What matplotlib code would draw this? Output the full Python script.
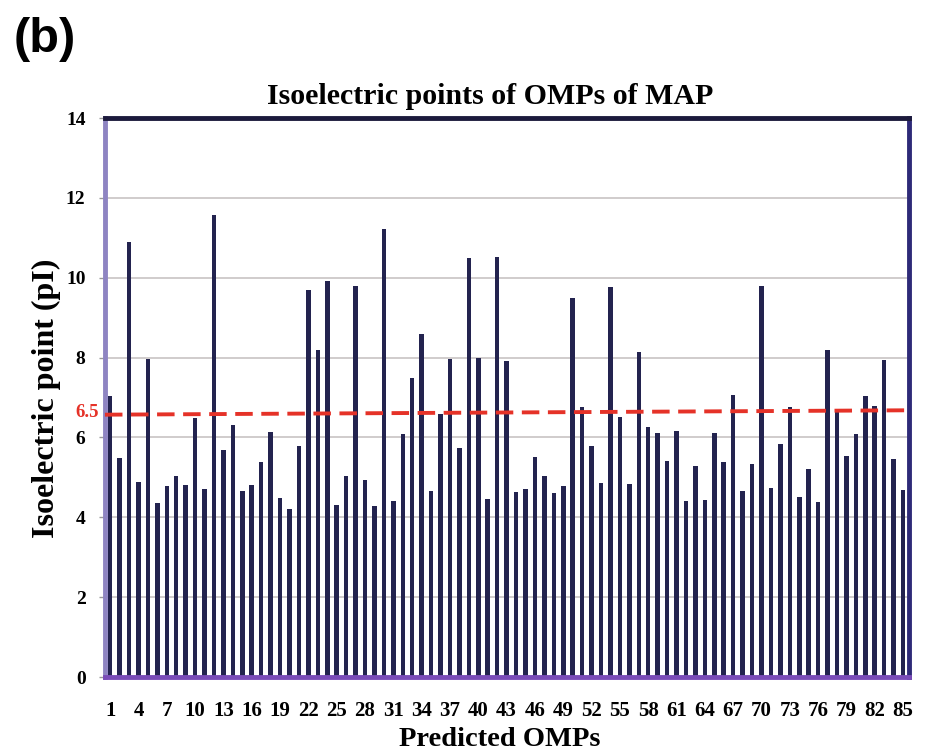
import matplotlib
matplotlib.use("Agg")
import matplotlib.pyplot as plt
import numpy as np

proteins = list(range(1, 86))
pI_values = [
    7.04, 5.48, 10.90, 4.89, 7.96, 4.35, 4.79, 5.04, 4.82, 6.49,
    4.71, 11.56, 5.69, 6.31, 4.66, 4.82, 5.39, 6.14, 4.48, 4.22,
    5.79, 9.69, 8.18, 9.91, 4.31, 5.04, 9.80, 4.93, 4.28, 11.21,
    4.42, 6.08, 7.48, 8.58, 4.65, 6.58, 7.96, 5.73, 10.50, 8.00,
    4.47, 10.52, 7.91, 4.64, 4.71, 5.51, 5.03, 4.60, 4.78, 9.50,
    6.75, 5.79, 4.85, 9.77, 6.52, 4.83, 8.15, 6.26, 6.11, 5.40,
    6.16, 4.41, 5.28, 4.43, 6.11, 5.38, 7.06, 4.66, 5.34, 9.79,
    4.73, 5.84, 6.76, 4.50, 5.21, 4.38, 8.18, 6.72, 5.53, 6.08,
    7.04, 6.79, 7.93, 5.47, 4.69,
]
x_tick_labels = [str(i) for i in range(1, 86, 3)]
y_ticks = [0, 2, 4, 6, 8, 10, 12, 14]
threshold_label = "6.5"
threshold_line = [6.57, 6.68]  # drawn line level at left / right ends

serif = ["Liberation Serif", "DejaVu Serif"]

fig = plt.figure(figsize=(9.33, 7.55), dpi=100)
ax = fig.add_axes([0.1125, 0.1033, 0.8615, 0.7404])

ax.bar(proteins, pI_values, width=0.48, color="#23234f", zorder=3)

ax.set_xlim(0.45, 85.6)
ax.set_ylim(0, 14)
ax.set_yticks(y_ticks)
ax.set_yticklabels([str(v) for v in y_ticks], fontfamily=serif,
                   fontweight="bold", fontsize=14)
ax.set_xticks(list(range(1, 86, 3)))
ax.set_xticklabels(x_tick_labels, fontfamily=serif, fontweight="bold",
                   fontsize=15)
ax.tick_params(axis="x", length=0, pad=17)
ax.tick_params(axis="y", length=4, width=1, color="#999999", pad=10)

ax.yaxis.grid(True, color="#c8c4c4", linewidth=1.2, zorder=0)
ax.set_axisbelow(True)

for side, col in [("top", "#1c1a3c"), ("right", "#2e2a78"),
                  ("left", "#8e84c2"), ("bottom", "#7a4cb8")]:
    ax.spines[side].set_color(col)
    ax.spines[side].set_linewidth(3.5)
    ax.spines[side].set_zorder(5)

xl = ax.get_xlim()
ax.plot([xl[0], xl[1]], threshold_line, color="#e53228", linewidth=2.8,
        dashes=(4.5, 2.2), zorder=6, clip_on=False)
ax.text(xl[0] - 0.6, threshold_line[0] + 0.05, threshold_label,
        color="#e53228", fontfamily=serif, fontweight="bold", fontsize=13.5,
        ha="right", va="center")

fig.text(490 / 933, 1 - 96 / 755, "Isoelectric points of OMPs of MAP",
         fontfamily=serif, fontweight="bold", fontsize=21.5,
         ha="center", va="center")
fig.text(46 / 933, 1 - 398 / 755, "Isoelectric point (pI)",
         fontfamily=serif, fontweight="bold", fontsize=23, rotation=90,
         ha="center", va="center")
fig.text(500 / 933, 1 - 739 / 755, "Predicted OMPs",
         fontfamily=serif, fontweight="bold", fontsize=20.5,
         ha="center", va="center")
fig.text(14 / 933, 1 - 40 / 755, "(b)", fontfamily=["Liberation Sans",
         "DejaVu Sans"], fontweight="bold", fontsize=35,
         ha="left", va="center")

fig.savefig("out.png", dpi=100)
